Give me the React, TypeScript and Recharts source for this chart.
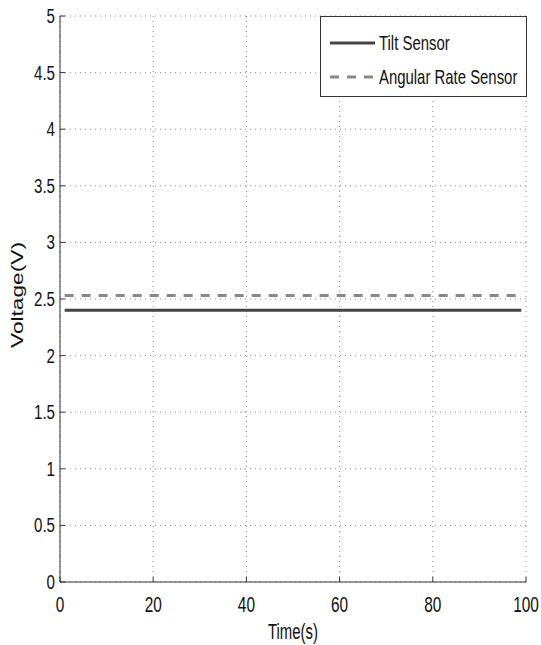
import { LineChart, Line, XAxis, YAxis, CartesianGrid, Legend } from "recharts"

const times = [1, 99]
const tiltSensor = [2.4, 2.4]
const angularRateSensor = [2.53, 2.53]
const xTicks = [0, 20, 40, 60, 80, 100]
const yTicks = [0, 0.5, 1, 1.5, 2, 2.5, 3, 3.5, 4, 4.5, 5]

const data = times.map((t, i) => ({ t, tilt: tiltSensor[i], rate: angularRateSensor[i] }))

const sans = "'Liberation Sans', Arial, sans-serif"
const frame = "#333"

// narrow font isn't installed, so squeeze Liberation Sans horizontally
function NarrowText({ x, y, size, anchor, sx = 0.72, children }: any) {
  return (
    <text
      transform={`translate(${x} ${y}) scale(${sx} 1)`}
      textAnchor={anchor}
      fontFamily={sans}
      fontSize={size}
      fill="#111"
    >
      {children}
    </text>
  )
}

function BottomTick({ x, y, payload }: any) {
  return (
    <g>
      <line x1={x} y1={y} x2={x} y2={y - 5} stroke={frame} />
      <NarrowText x={x} y={y + 30} size={22} anchor="middle" sx={0.7}>
        {payload.value}
      </NarrowText>
    </g>
  )
}

function LeftTick({ x, y, payload }: any) {
  return (
    <g>
      <line x1={x} y1={y} x2={x + 5} y2={y} stroke={frame} />
      <NarrowText x={x - 5} y={y + 7} size={21} anchor="end">
        {payload.value}
      </NarrowText>
    </g>
  )
}

function TopTick({ x, y }: any) {
  return <line x1={x} y1={y} x2={x} y2={y + 5} stroke={frame} />
}

function RightTick({ x, y }: any) {
  return <line x1={x} y1={y} x2={x - 5} y2={y} stroke={frame} />
}

function LegendBox() {
  const rows = [
    { name: "Tilt Sensor", color: "#444", dash: undefined, y: 27 },
    { name: "Angular Rate Sensor", color: "#888", dash: "9 8", y: 61 },
  ]
  return (
    <svg width={207} height={81} style={{ display: "block" }}>
      <rect x={0.5} y={0.5} width={206} height={80} fill="#fff" stroke={frame} />
      {rows.map((r) => (
        <g key={r.name}>
          <line x1={10} y1={r.y} x2={55} y2={r.y} stroke={r.color} strokeWidth={3} strokeDasharray={r.dash} />
          <NarrowText x={59} y={r.y + 7} size={21} anchor="start" sx={0.71}>
            {r.name}
          </NarrowText>
        </g>
      ))}
    </svg>
  )
}

export default function App() {
  return (
    <div style={{ position: "absolute", left: 0, top: 0, width: 541, height: 645, background: "#fff" }}>
      <LineChart width={541} height={645} data={data} margin={{ top: 16, right: 15, left: 0, bottom: 0 }}>
        <CartesianGrid xAxisId="b" yAxisId="l" stroke="#888" strokeDasharray="1 4" />
        <XAxis
          xAxisId="b"
          dataKey="t"
          type="number"
          domain={[0, 100]}
          ticks={xTicks}
          height={63}
          tickSize={0}
          tickMargin={0}
          axisLine={{ stroke: frame }}
          tickLine={false}
          tick={<BottomTick />}
          interval={0}
          label={{
            content: ({ viewBox }: any) => (
              <text
                x={viewBox.x + viewBox.width / 2}
                y={viewBox.y + 57}
                textAnchor="middle"
                fontFamily={sans}
                fontSize={22}
                textLength={50}
                lengthAdjust="spacingAndGlyphs"
                fill="#111"
              >
                Time(s)
              </text>
            ),
          }}
        />
        <XAxis
          xAxisId="t"
          orientation="top"
          type="number"
          domain={[0, 100]}
          ticks={xTicks}
          height={0}
          tickSize={0}
          tickMargin={0}
          axisLine={{ stroke: frame }}
          tickLine={false}
          tick={<TopTick />}
          interval={0}
        />
        <YAxis
          yAxisId="l"
          type="number"
          domain={[0, 5]}
          ticks={yTicks}
          width={60}
          tickSize={0}
          tickMargin={0}
          axisLine={{ stroke: frame }}
          tickLine={false}
          tick={<LeftTick />}
          interval={0}
          label={{
            content: ({ viewBox }: any) => {
              const cx = 19
              const cy = viewBox.y + viewBox.height / 2 - 4
              return (
                <text
                  x={cx}
                  y={cy}
                  transform={`rotate(-90 ${cx} ${cy})`}
                  textAnchor="middle"
                  dominantBaseline="middle"
                  fontFamily={sans}
                  fontSize={16}
                  textLength={106}
                  lengthAdjust="spacingAndGlyphs"
                  fill="#111"
                >
                  Voltage(V)
                </text>
              )
            },
          }}
        />
        <YAxis
          yAxisId="r"
          orientation="right"
          type="number"
          domain={[0, 5]}
          ticks={yTicks}
          width={0}
          tickSize={0}
          tickMargin={0}
          axisLine={{ stroke: frame }}
          tickLine={false}
          tick={<RightTick />}
          interval={0}
        />
        <Legend
          verticalAlign="middle"
          align="center"
          content={<LegendBox />}
          wrapperStyle={{ top: 16, left: 320, width: 207, height: 81 }}
        />
        <Line
          xAxisId="b"
          yAxisId="l"
          dataKey="tilt"
          name="Tilt Sensor"
          stroke="#444"
          strokeWidth={3}
          dot={false}
          isAnimationActive={false}
        />
        <Line
          xAxisId="b"
          yAxisId="l"
          dataKey="rate"
          name="Angular Rate Sensor"
          stroke="#888"
          strokeWidth={3}
          strokeDasharray="9 8"
          dot={false}
          isAnimationActive={false}
        />
      </LineChart>
    </div>
  )
}
